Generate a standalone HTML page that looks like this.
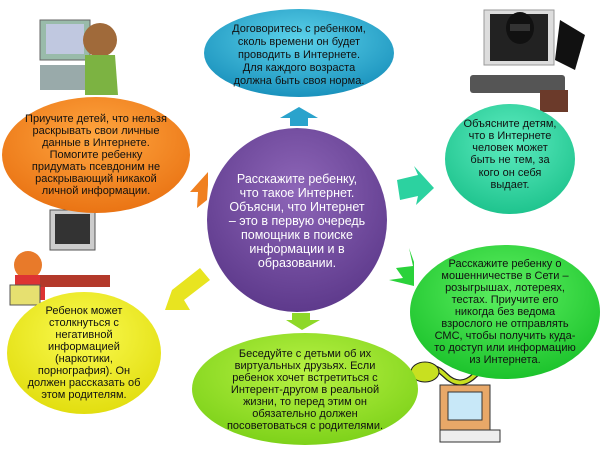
<!DOCTYPE html>
<html><head><meta charset="utf-8"><style>
html,body{margin:0;padding:0;background:#fff;}
svg{display:block}
text{font-family:"Liberation Sans",sans-serif;text-anchor:middle;fill:#111;}
</style></head><body>
<svg width="600" height="453" viewBox="0 0 600 453" xmlns="http://www.w3.org/2000/svg">
<defs>
<radialGradient id="gT" cx="50%" cy="35%" r="65%"><stop offset="0" stop-color="#5cd2ea"/><stop offset="1" stop-color="#1a92bd"/></radialGradient>
<radialGradient id="gO" cx="50%" cy="35%" r="65%"><stop offset="0" stop-color="#ffa640"/><stop offset="1" stop-color="#ea7414"/></radialGradient>
<radialGradient id="gP" cx="50%" cy="35%" r="65%"><stop offset="0" stop-color="#8e66b8"/><stop offset="1" stop-color="#5e3a8c"/></radialGradient>
<radialGradient id="gR" cx="50%" cy="35%" r="65%"><stop offset="0" stop-color="#5eecc0"/><stop offset="1" stop-color="#1fc48e"/></radialGradient>
<radialGradient id="gG" cx="50%" cy="35%" r="65%"><stop offset="0" stop-color="#5ef062"/><stop offset="1" stop-color="#1cc32c"/></radialGradient>
<radialGradient id="gL" cx="50%" cy="35%" r="65%"><stop offset="0" stop-color="#b8f244"/><stop offset="1" stop-color="#7ed21a"/></radialGradient>
<radialGradient id="gY" cx="50%" cy="35%" r="65%"><stop offset="0" stop-color="#fafa50"/><stop offset="1" stop-color="#e2de10"/></radialGradient>
</defs>

<!-- pictures (rough) -->
<g>
<rect x="484" y="10" width="70" height="55" fill="#ddd" stroke="#999"/>
<rect x="490" y="14" width="58" height="47" fill="#222"/>
<ellipse cx="520" cy="28" rx="14" ry="16" fill="#111"/>
<rect x="510" y="24" width="20" height="7" fill="#333"/>
<path d="M560 20 L585 35 L575 70 L555 60 Z" fill="#111"/>
<rect x="470" y="75" width="95" height="18" rx="3" fill="#555"/>
<rect x="540" y="90" width="28" height="22" fill="#6b3a2a"/>
<rect x="40" y="20" width="50" height="40" fill="#9ba" stroke="#666"/>
<rect x="46" y="24" width="38" height="30" fill="#c0c8e0"/>
<rect x="40" y="65" width="50" height="25" fill="#9aa"/>
<circle cx="100" cy="40" r="17" fill="#a06a3a"/>
<path d="M85 55 L115 55 L118 95 L85 95 Z" fill="#7cb342"/>
<rect x="50" y="210" width="45" height="40" fill="#ccc" stroke="#555"/>
<rect x="55" y="214" width="35" height="30" fill="#333"/>
<circle cx="28" cy="265" r="14" fill="#e87a2a"/>
<rect x="15" y="275" width="30" height="25" fill="#d33"/>
<rect x="40" y="275" width="70" height="12" fill="#b3392a"/>
<rect x="10" y="285" width="30" height="20" fill="#e6e070" stroke="#555"/>
<rect x="440" y="385" width="50" height="45" fill="#e8a868" stroke="#333"/>
<rect x="448" y="392" width="34" height="28" fill="#c8e8f8" stroke="#333"/>
<path d="M415 375 Q430 360 445 375 T475 375 T505 375" stroke="#222" stroke-width="6" fill="none"/>
<path d="M415 375 Q430 360 445 375 T475 375 T505 375" stroke="#c8e020" stroke-width="3.5" fill="none"/>
<ellipse cx="425" cy="372" rx="14" ry="10" fill="#c8e020" stroke="#222"/>
<rect x="440" y="430" width="60" height="12" fill="#eee" stroke="#333"/>
</g>

<!-- arrows -->
<path d="M280 118 L299 107 L318 118 L308 118 L308 126 L290 126 L290 118 Z" fill="#2aa3cc"/>
<path d="M208 172 L190 192 L198 192 L197 208 L207 200 L208 185 Z" fill="#f08020"/>
<path d="M397 180 L418 175 L414 166 L434 188 L416 205 L418 196 L400 200 Z" fill="#2cd2a0"/>
<path d="M409 248 L413 266 L396 268 L403 278 L389 280 L414 286 L414 262 Z" fill="#2ad23a"/>
<path d="M200 268 L172 290 L165 310 L190 310 L184 300 L210 280 Z" fill="#e8e420"/>
<path d="M286 320 L302 330 L320 320 L310 320 L310 313 L292 313 L292 320 Z" fill="#8ed828"/>

<!-- ellipses -->
<ellipse cx="299" cy="53" rx="95" ry="44" fill="url(#gT)"/>
<ellipse cx="96" cy="155" rx="94" ry="58" fill="url(#gO)"/>
<ellipse cx="297" cy="220" rx="90" ry="92" fill="url(#gP)"/>
<ellipse cx="510" cy="159" rx="65" ry="55" fill="url(#gR)"/>
<ellipse cx="505" cy="312" rx="95" ry="67" fill="url(#gG)"/>
<ellipse cx="305" cy="389" rx="113" ry="56" fill="url(#gL)"/>
<ellipse cx="84" cy="353" rx="77" ry="61" fill="url(#gY)"/>

<g font-size="11">
<text x="299" y="32">Договоритесь с ребенком,</text>
<text x="299" y="45">сколь времени он будет</text>
<text x="299" y="58">проводить в Интернете.</text>
<text x="299" y="71">Для каждого возраста</text>
<text x="299" y="84">должна быть своя норма.</text>

<text x="96" y="122">Приучите детей, что нельзя</text>
<text x="96" y="134">раскрывать свои личные</text>
<text x="96" y="146">данные в Интернете.</text>
<text x="96" y="158">Помогите ребенку</text>
<text x="96" y="170">придумать псевдоним не</text>
<text x="96" y="182">раскрывающий никакой</text>
<text x="96" y="194">личной информации.</text>

<text x="510" y="127">Объясните детям,</text>
<text x="510" y="139">что в Интернете</text>
<text x="510" y="151">человек может</text>
<text x="510" y="163">быть не тем, за</text>
<text x="510" y="176">кого он себя</text>
<text x="510" y="188">выдает.</text>

<text x="505" y="267">Расскажите ребенку о</text>
<text x="505" y="279">мошенничестве в Сети –</text>
<text x="505" y="291">розыгрышах, лотереях,</text>
<text x="505" y="303">тестах. Приучите его</text>
<text x="505" y="315">никогда без ведома</text>
<text x="505" y="327">взрослого не отправлять</text>
<text x="505" y="339">СМС, чтобы получить куда-</text>
<text x="505" y="351">то доступ или информацию</text>
<text x="505" y="363">из Интернета.</text>

<text x="305" y="357">Беседуйте с детьми об их</text>
<text x="305" y="369">виртуальных друзьях. Если</text>
<text x="305" y="381">ребенок хочет встретиться с</text>
<text x="305" y="393">Интерент-другом в реальной</text>
<text x="305" y="405">жизни, то перед этим он</text>
<text x="305" y="417">обязательно должен</text>
<text x="305" y="429">посоветоваться с родителями.</text>

<text x="84" y="314">Ребенок может</text>
<text x="84" y="326">столкнуться с</text>
<text x="84" y="338">негативной</text>
<text x="84" y="350">информацией</text>
<text x="84" y="362">(наркотики,</text>
<text x="84" y="374">порнография). Он</text>
<text x="84" y="386">должен рассказать об</text>
<text x="84" y="398">этом родителям.</text>
</g>
<g font-size="12.5">
<text x="297" y="183" fill="#fff" style="fill:#fff">Расскажите ребенку,</text>
<text x="297" y="197" style="fill:#fff">что такое Интернет.</text>
<text x="297" y="211" style="fill:#fff">Объясни, что Интернет</text>
<text x="297" y="225" style="fill:#fff">– это в первую очередь</text>
<text x="297" y="239" style="fill:#fff">помощник в поиске</text>
<text x="297" y="253" style="fill:#fff">информации и в</text>
<text x="297" y="267" style="fill:#fff">образовании.</text>
</g>
</svg>
</body></html>
